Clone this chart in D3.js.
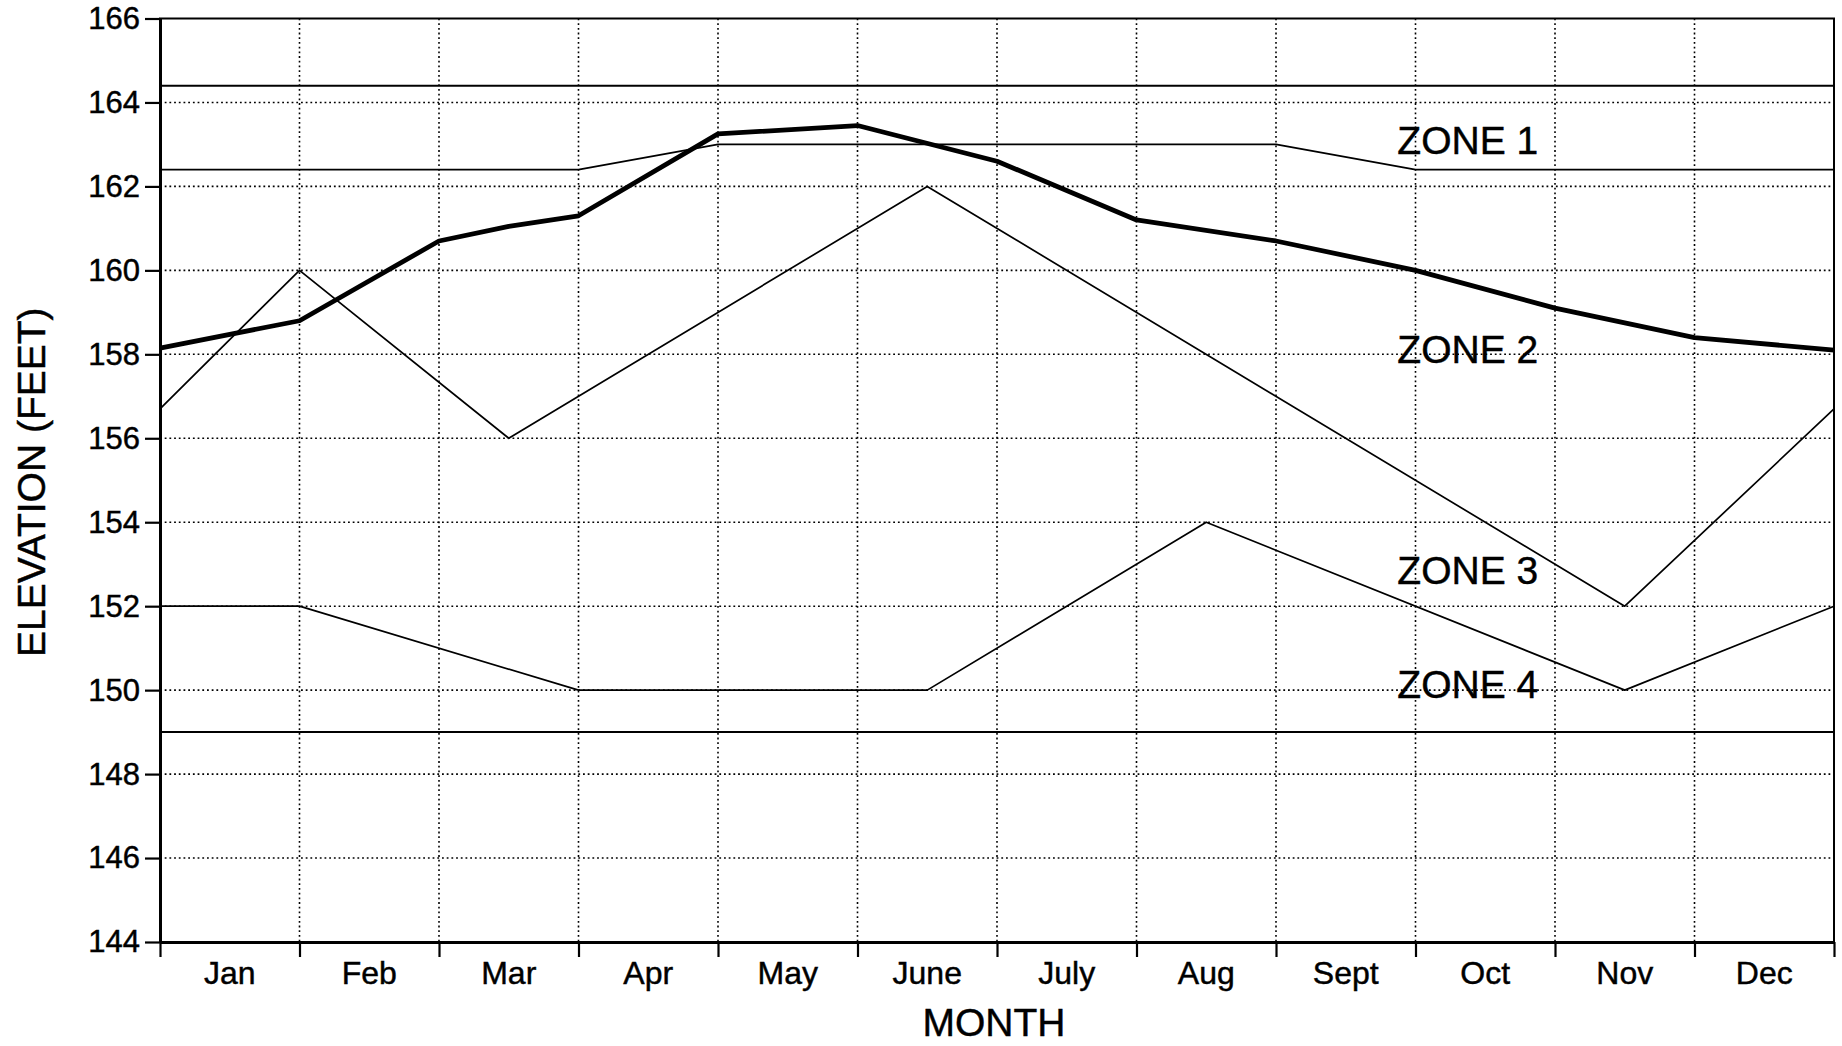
<!DOCTYPE html>
<html>
<head>
<meta charset="utf-8">
<script src="https://cdn.jsdelivr.net/npm/d3@7/dist/d3.min.js"></script>
<style>
  html, body { margin: 0; padding: 0; background: #fff; }
  svg { display: block; font-family: "Liberation Sans", Arial, Helvetica, sans-serif; }
  svg text { fill: #000; stroke: #000; stroke-width: 0.45px; }
</style>
</head>
<body>
<svg id="chart" width="1842" height="1046"></svg>
<script>
// Month names, drawn centred in each month band
const months = ["Jan", "Feb", "Mar", "Apr", "May", "June", "July", "Aug", "Sept", "Oct", "Nov", "Dec"];
// Elevation ticks (feet)
const elevTicks = [144, 146, 148, 150, 152, 154, 156, 158, 160, 162, 164, 166];

// x values are in months from 1 January (0 = Jan 1, 12 = Dec 31)
// Top of the flood-control pool
const topPoolX = [0, 12];
const topPoolElev = [164.4, 164.4];
// Zone 1 / Zone 2 boundary
const zone1X = [0, 1, 2, 3, 4, 5, 6, 7, 8, 9, 10, 11, 12];
const zone1Elev = [162.4, 162.4, 162.4, 162.4, 163.0, 163.0, 163.0, 163.0, 163.0, 162.4, 162.4, 162.4, 162.4];
// Guide curve (pool elevation)
const poolX = [0, 1, 2, 2.5, 3, 4, 5, 6, 7, 8, 9, 10, 11, 12];
const poolElev = [158.15, 158.8, 160.7, 161.05, 161.3, 163.25, 163.45, 162.6, 161.2, 160.7, 160.0, 159.1, 158.4, 158.1];
// Zone 2 / Zone 3 boundary
const zone3X = [0, 1, 2.5, 5.5, 10.5, 12];
const zone3Elev = [156.7, 160.0, 156.0, 162.0, 152.0, 156.7];
// Zone 3 / Zone 4 boundary
const zone4X = [0, 1, 3, 5.5, 7.5, 10.5, 12];
const zone4Elev = [152.0, 152.0, 150.0, 150.0, 154.0, 150.0, 152.0];
// Bottom of the conservation pool
const bottomX = [0, 12];
const bottomElev = [149.0, 149.0];

// Zone names and where they sit (month, elevation of text baseline)
const zoneNames = ["ZONE 1", "ZONE 2", "ZONE 3", "ZONE 4"];
const zoneNameX = [8.87, 8.87, 8.87, 8.87];
const zoneNameElev = [162.77, 157.79, 152.53, 149.81];

const svg = d3.select("#chart");
const plotLeft = 160, plotRight = 1834, plotTop = 18.5, plotBottom = 942;

const x = d3.scaleLinear().domain([0, 12]).range([plotLeft, plotRight]);
const y = d3.scaleLinear().domain([144, 166]).range([plotBottom, plotTop]);

const zip = (xs, ys) => xs.map((v, i) => [v, ys[i]]);
const line = d3.line().x(d => x(d[0])).y(d => y(d[1]));

// Dotted grid
const grid = svg.append("g").attr("stroke", "#000").attr("stroke-width", 1.6)
  .attr("stroke-dasharray", "1.8,2.9").attr("fill", "none");
grid.selectAll("line.h").data(elevTicks.slice(1, -1)).join("line")
  .attr("class", "h")
  .attr("x1", x(0)).attr("x2", x(12))
  .attr("y1", d => y(d)).attr("y2", d => y(d));
grid.selectAll("line.v").data(d3.range(1, 12)).join("line")
  .attr("class", "v")
  .attr("x1", d => x(d)).attr("x2", d => x(d))
  .attr("y1", y(166)).attr("y2", y(144));

// Zone boundary lines
const series = [
  { pts: zip(topPoolX, topPoolElev), w: 2 },
  { pts: zip(zone1X, zone1Elev), w: 1.8 },
  { pts: zip(zone3X, zone3Elev), w: 1.7 },
  { pts: zip(zone4X, zone4Elev), w: 1.7 },
  { pts: zip(bottomX, bottomElev), w: 2 },
  { pts: zip(poolX, poolElev), w: 4.8 }
];
svg.append("g").selectAll("path").data(series).join("path")
  .attr("d", d => line(d.pts))
  .attr("fill", "none").attr("stroke", "#000")
  .attr("stroke-width", d => d.w)
  .attr("stroke-linejoin", "round").attr("stroke-linecap", "butt");

// Frame
svg.append("rect")
  .attr("x", x(0)).attr("y", y(166))
  .attr("width", x(12) - x(0)).attr("height", y(144) - y(166))
  .attr("fill", "none").attr("stroke", "#000").attr("stroke-width", 2);

// Left axis
const yAxis = svg.append("g").attr("transform", `translate(${plotLeft},0)`)
  .call(d3.axisLeft(y).tickValues(elevTicks).tickSize(15).tickPadding(5).tickSizeOuter(0));
yAxis.select(".domain").attr("stroke-width", 3);
yAxis.selectAll(".tick line").attr("stroke-width", 2.2);
yAxis.selectAll(".tick text")
  .attr("font-size", 31)
  .attr("font-family", "'Liberation Sans', Arial, sans-serif");

// Bottom axis: ticks at month boundaries, names in between
const xAxis = svg.append("g").attr("transform", `translate(0,${plotBottom})`)
  .call(d3.axisBottom(x).tickValues(d3.range(0, 13)).tickSize(15).tickFormat("").tickSizeOuter(0));
xAxis.select(".domain").attr("stroke-width", 3);
xAxis.selectAll(".tick line").attr("stroke-width", 2.2);

svg.append("g").selectAll("text").data(months).join("text")
  .attr("x", (d, i) => x(i + 0.5))
  .attr("y", 984)
  .attr("text-anchor", "middle")
  .attr("font-size", 32)
  .text(d => d);

// Axis titles
svg.append("text")
  .attr("x", 994).attr("y", 1036)
  .attr("text-anchor", "middle")
  .attr("font-size", 39)
  .text("MONTH");

svg.append("text")
  .attr("transform", `translate(45,${(plotTop + plotBottom) / 2 + 2}) rotate(-90)`)
  .attr("text-anchor", "middle")
  .attr("font-size", 39)
  .text("ELEVATION (FEET)");

// Zone names
svg.append("g").selectAll("text").data(zoneNames).join("text")
  .attr("x", (d, i) => x(zoneNameX[i]))
  .attr("y", (d, i) => y(zoneNameElev[i]))
  .attr("font-size", 39)
  .text(d => d);
</script>
</body>
</html>
